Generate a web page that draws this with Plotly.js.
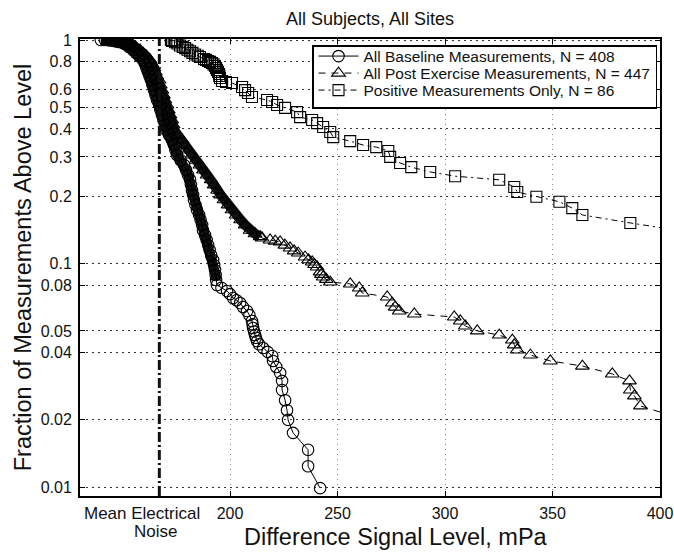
<!DOCTYPE html>
<html><head><meta charset="utf-8">
<script src="https://cdn.plot.ly/plotly-3.0.1.min.js"></script>
<style>html,body{margin:0;padding:0;background:#fff}#chart{width:674px;height:556px}</style>
</head><body><div id="chart"></div>
<script>
// ---- Data ----
const baselineName = "All Baseline Measurements, N = 408";
const postName = "All Post Exercise Measurements, N = 447";
const positiveName = "Positive Measurements Only, N = 86";

const baselineX = [139.9,141.8,144.1,146.0,147.4,148.3,150.2,151.1,152.1,153.0,154.8,156.2,157.6,159.5,160.4,161.1,161.8,162.5,163.2,163.9,164.6,165.3,166.0,167.0,167.6,168.3,169.0,169.7,170.2,171.6,173.0,173.9,174.6,175.3,177.0,178.6,179.5,180.4,181.4,181.8,182.3,182.8,183.2,183.9,184.6,185.6,186.3,187.0,187.4,188.4,189.1,189.8,190.5,191.2,192.1,192.6,193.0,193.3,193.5,
  193.9,196.0,198.6,200.0,201.4,203.0,204.7,206.0,207.9,209.0,210.2,210.5,210.7,211.2,211.6,212.0,212.6,213.5,215.4,217.5,219.6,220.0,221.5,223.3,224.2,224.2,225.6,226.5,227.0,229.3,236.3,236.3,241.9];
const baselineY = [1.0,1.0,0.995,0.99,0.985,0.98,0.97,0.96,0.95,0.93,0.902,0.875,0.848,0.814,0.781,0.750,0.719,0.690,0.662,0.629,0.597,0.567,0.539,0.512,0.486,0.462,0.439,0.417,0.396,0.376,0.357,0.339,0.322,0.306,0.290,0.276,0.262,0.249,0.237,0.225,0.213,0.203,0.193,0.183,0.174,0.165,0.157,0.149,0.141,0.134,0.1275,0.121,0.115,0.109,0.1037,0.0986,0.0936,0.0889,0.0845,
  0.0802,0.078,0.0754,0.073,0.0702,0.0686,0.0666,0.064,0.0614,0.0588,0.0554,0.0535,0.0515,0.0497,0.0479,0.0466,0.0450,0.0436,0.0419,0.0403,0.0386,0.0367,0.0345,0.0324,0.0299,0.0272,0.0245,0.0221,0.0200,0.0175,0.0147,0.0124,0.0099];
const baselineDenseCount = 59;

const postX = [143.2,145.1,147.4,148.8,150.2,151.6,153.0,153.9,154.8,156.2,158.1,159.5,160.9,162.8,163.7,164.6,165.3,166.0,167.0,167.6,168.3,169.0,169.7,170.7,171.3,172.1,172.8,173.5,173.9,175.8,177.7,179.1,180.7,182.3,184.2,186.0,187.6,189.3,191.2,192.6,194.2,195.6,197.2,199.1,200.9,202.8,204.9,207.0,209.3,211.6,214.0,
  214.9,218.6,221.0,223.3,225.5,227.9,229.8,231.7,234.9,236.5,238.2,239.3,240.5,241.9,242.5,243.3,244.8,246.6,255.9,260.1,261.5,273.1,275.4,276.8,278.7,285.7,304.3,307.1,309.4,315.0,325.2,331.3,332.2,333.6,339.7,349.0,363.9,377.8,385.8,386.2,388.1,390.9,408.0];
const postY = [1.0,1.0,0.995,0.99,0.985,0.98,0.97,0.96,0.95,0.93,0.902,0.875,0.848,0.814,0.781,0.750,0.719,0.690,0.662,0.629,0.597,0.567,0.539,0.512,0.486,0.462,0.439,0.417,0.396,0.376,0.357,0.339,0.322,0.306,0.290,0.276,0.262,0.249,0.237,0.225,0.213,0.203,0.193,0.183,0.174,0.165,0.157,0.149,0.141,0.136,0.132,
  0.1302,0.1275,0.126,0.1249,0.121,0.1174,0.114,0.1115,0.1070,0.104,0.1017,0.099,0.0966,0.0918,0.0895,0.0871,0.085,0.0827,0.0811,0.0778,0.0739,0.0709,0.0666,0.0639,0.0614,0.0595,0.0577,0.0554,0.0526,0.0500,0.0479,0.0455,0.0433,0.0411,0.0390,0.0367,0.0348,0.0321,0.0299,0.0272,0.0256,0.0231,0.0205];
const postDenseCount = 51;

const positiveX = [172.5,173.0,173.8,174.4,175.0,175.5,176.7,178.0,179.1,180.2,181.4,182.5,183.7,185.0,186.0,187.9,188.8,189.8,190.7,191.6,192.3,193.0,193.5,193.9,194.4,194.9,195.0,195.3,196.3,198.1,200.9,205.6,207.0,208.4,210.2,217.2,219.6,221.9,225.6,231.2,232.6,238.2,240.5,243.3,246.6,248.0,255.9,261.9,268.0,273.6,274.5,279.1,284.3,293.1,304.7,325.2,332.2,333.6,342.5,353.2,359.2,363.9,386.2,410.0];
const positiveY = [1.0,0.990,0.995,0.977,0.983,0.965,0.945,0.932,0.920,0.905,0.890,0.876,0.862,0.850,0.839,0.822,0.815,0.806,0.798,0.789,0.778,0.765,0.750,0.734,0.720,0.705,0.690,0.676,0.656,0.649,0.642,0.616,0.597,0.579,0.556,0.539,0.528,0.512,0.497,0.476,0.452,0.439,0.425,0.408,0.388,0.368,0.353,0.339,0.332,0.319,0.300,0.282,0.270,0.257,0.246,0.237,0.220,0.209,0.199,0.189,0.177,0.165,0.152,0.140];

const noiseLevel = 167.1;
const xTickVals = [200, 250, 300, 350, 400];
const xTickText = ["200", "250", "300", "350", "400"];
const yTickVals = [0.01, 0.02, 0.04, 0.05, 0.08, 0.1, 0.2, 0.3, 0.4, 0.5, 0.6, 0.8, 1];
const yTickText = ["0.01", "0.02", "0.04", "0.05", "0.08", "0.1", "0.2", "0.3", "0.4", "0.5", "0.6", "0.8", "1"];
const titleText = "All Subjects, All Sites";
const xTitle = "Difference Signal Level, mPa";
const yTitle = "Fraction of Measurements Above Level";
const noiseLabel1 = "Mean Electrical";
const noiseLabel2 = "Noise";

// ---- Chart ----
const FONT = "Liberation Sans, Arial, Helvetica, sans-serif";
const INK = "#111";

const traces = [
  { x: baselineX.slice(0, baselineDenseCount), y: baselineY.slice(0, baselineDenseCount),
    mode: "lines", line: { color: INK, width: 10 }, showlegend: false, hoverinfo: "skip" },
  { x: postX.slice(0, postDenseCount), y: postY.slice(0, postDenseCount),
    mode: "lines", line: { color: INK, width: 10 }, showlegend: false, hoverinfo: "skip" },
  { x: baselineX, y: baselineY, name: baselineName, mode: "lines+markers",
    line: { color: "#000", width: 1, dash: "solid" },
    marker: { symbol: "circle-open", size: 11.5, color: "#000", line: { width: 1.1, color: "#000" } } },
  { x: postX, y: postY, name: postName, mode: "lines+markers",
    line: { color: "#000", width: 1, dash: "7px,6px" },
    marker: { symbol: "triangle-up-open", size: 12, color: "#000", line: { width: 1.1, color: "#000" } } },
  { x: positiveX, y: positiveY, name: positiveName, mode: "lines+markers",
    line: { color: "#000", width: 1, dash: "6px,4px,2px,4px" },
    marker: { symbol: "square-open", size: 11, color: "#000", line: { width: 1.1, color: "#000" } } }
];

const layout = {
  width: 674, height: 556,
  margin: { l: 80, r: 14, t: 39, b: 60 },
  paper_bgcolor: "#fff", plot_bgcolor: "#fff",
  font: { family: FONT, color: INK, size: 16 },
  title: { text: titleText, font: { size: 18, family: FONT, color: INK },
           x: 0.5, xref: "paper", xanchor: "center", y: 1 - 19 / 556, yref: "container", yanchor: "middle" },
  xaxis: {
    range: [130.2, 400], tickvals: xTickVals, ticktext: xTickText,
    ticks: "inside", ticklen: 5, tickwidth: 1, tickcolor: "#000",
    showline: true, linecolor: "#000", linewidth: 2, mirror: "ticks",
    showgrid: true, gridcolor: "#888", griddash: "1px,4px", gridwidth: 1,
    zeroline: false, tickfont: { size: 16, family: FONT, color: INK },
    ticklabelstandoff: 2
  },
  yaxis: {
    type: "log", range: [-2.0394, 0.0045], tickvals: yTickVals, ticktext: yTickText,
    ticks: "inside", ticklen: 5, tickwidth: 1, tickcolor: "#000",
    showline: true, linecolor: "#000", linewidth: 2, mirror: "ticks",
    showgrid: true, gridcolor: "#333", griddash: "2px,4px", gridwidth: 1,
    zeroline: false, tickfont: { size: 16, family: FONT, color: INK },
    ticklabelstandoff: 3,
    title: { text: yTitle, font: { size: 23.5, family: FONT, color: INK }, standoff: 2 }
  },
  legend: {
    x: (312 - 80) / 580, xanchor: "left", y: 1 - (45 - 39) / 457, yanchor: "top",
    bgcolor: "#fff", bordercolor: "#000", borderwidth: 1.5, itemwidth: 40,
    font: { size: 15.5, family: FONT, color: INK }, tracegroupgap: 0
  },
  shapes: [
    { type: "line", xref: "x", yref: "paper", x0: noiseLevel, x1: noiseLevel, y0: 0, y1: 1,
      line: { color: INK, width: 3, dash: "10px,3px,2px,3px" } }
  ],
  annotations: [
    { text: xTitle, xref: "paper", yref: "paper", x: (396 - 80) / 580, y: (496 - 537) / 457,
      xanchor: "center", yanchor: "middle", showarrow: false, font: { size: 23.5, family: FONT, color: INK } },
    { text: noiseLabel1, xref: "paper", yref: "paper", x: (141.5 - 80) / 580, y: (496 - 513) / 457,
      xanchor: "center", yanchor: "middle", showarrow: false, font: { size: 17, family: FONT, color: INK } },
    { text: noiseLabel2, xref: "paper", yref: "paper", x: (155 - 80) / 580, y: (496 - 531) / 457,
      xanchor: "center", yanchor: "middle", showarrow: false, font: { size: 17, family: FONT, color: INK } }
  ]
};

// Tighten legend row spacing to match the compact MATLAB legend
const LEGEND_ROW = 17, LEGEND_SHIFT = 7, LEGEND_HEIGHT = 62;
Plotly.newPlot("chart", traces, layout, { displayModeBar: false, staticPlot: true }).then(function (gd) {
  const leg = gd.querySelector(".legend");
  if (!leg) return;
  const items = leg.querySelectorAll(".traces");
  if (!items.length) return;
  const m = /translate\(\s*([-\d.]+)[ ,]+([-\d.]+)\s*\)/.exec(items[0].getAttribute("transform") || "");
  if (!m) return;
  const x0 = parseFloat(m[1]), y0 = parseFloat(m[2]);
  items.forEach(function (g, i) {
    g.setAttribute("transform", "translate(" + x0 + "," + (y0 - LEGEND_SHIFT + i * LEGEND_ROW) + ")");
  });
  const bg = leg.querySelector("rect.bg");
  if (bg) bg.setAttribute("height", LEGEND_HEIGHT);
});
</script>
</body></html>
